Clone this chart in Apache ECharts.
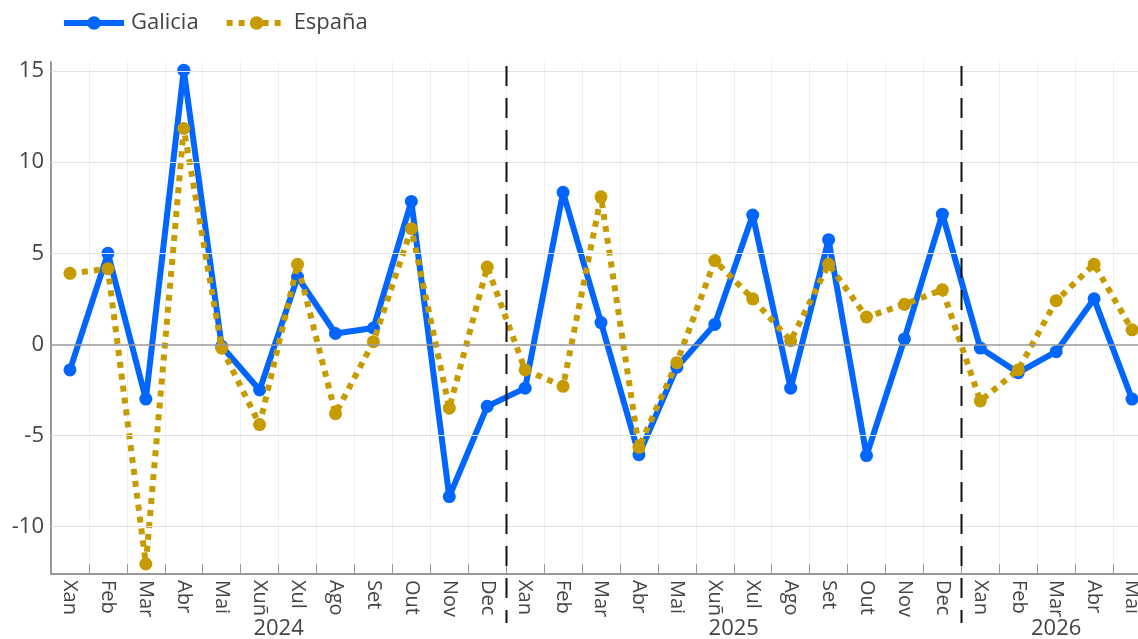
<!DOCTYPE html>
<html>
<head>
<meta charset="utf-8">
<script src="https://cdn.jsdelivr.net/npm/echarts@6/dist/echarts.min.js"></script>
<style>
html,body{margin:0;padding:0;background:#fff;overflow:hidden;width:1138px;height:639px;}
#chart{width:1151px;height:639px;}
</style>
</head>
<body>
<div id="chart"></div>
<script>
// ---- data ----
const categories = ['Xan','Feb','Mar','Abr','Mai','Xuñ','Xul','Ago','Set','Out','Nov','Dec',
                    'Xan','Feb','Mar','Abr','Mai','Xuñ','Xul','Ago','Set','Out','Nov','Dec',
                    'Xan','Feb','Mar','Abr','Mai'];
const galicia = [-1.4, 5.0, -3.0, 15.05, -0.1, -2.5, 3.7, 0.6, 0.9, 7.85, -8.35, -3.4,
                 -2.4, 8.35, 1.2, -6.05, -1.25, 1.1, 7.1, -2.4, 5.75, -6.1, 0.3, 7.15,
                 -0.2, -1.55, -0.4, 2.5, -3.0];
const espana = [3.9, 4.15, -12.05, 11.85, -0.2, -4.4, 4.4, -3.8, 0.15, 6.35, -3.5, 4.25,
                -1.4, -2.3, 8.1, -5.65, -1.0, 4.6, 2.5, 0.2, 4.4, 1.5, 2.2, 3.0,
                -3.1, -1.4, 2.4, 4.4, 0.8];
const yTicks = [-10, -5, 0, 5, 10, 15];
const yearLabels = ['2024', '2025', '2026'];
const yearFirstIndex = [0, 12, 24];
const yearLastIndex = [11, 23, 28];

const FONT = 'Open Sans';
const chart = echarts.init(document.getElementById('chart'), null, {renderer: 'canvas'});

const option = {
  animation: false,
  textStyle: {fontFamily: FONT},
  grid: {left: 51, right: 0, top: 62, bottom: 65, containLabel: false},
  legend: {
    data: ['Galicia', 'España'],
    left: 56, top: 7,
    itemWidth: 60, itemHeight: 17, itemGap: 25,
    lineStyle: {width: 6},
    textStyle: {fontSize: 22, color: '#444', fontFamily: FONT, padding: [0, 0, 0, 2]}
  },
  xAxis: {
    type: 'category',
    data: categories,
    boundaryGap: true,
    axisLine: {show: true, onZero: false, lineStyle: {color: '#777', width: 1.5}},
    axisTick: {show: true, inside: true, length: 10, lineStyle: {color: '#999'}},
    axisLabel: {rotate: -90, fontSize: 20, color: '#444', margin: 6, interval: 0, fontFamily: FONT},
    splitLine: {show: true, lineStyle: {color: '#efefef', width: 1}}
  },
  yAxis: {
    type: 'value',
    min: -12.6, max: 15.5,
    axisLine: {show: true, lineStyle: {color: '#999', width: 2}},
    axisTick: {show: false},
    splitLine: {show: false},
    axisLabel: {
      fontSize: 22, color: '#444', margin: 7, fontFamily: FONT,
      formatter: v => (yTicks.indexOf(v) >= 0 ? String(v) : '')
    }
  },
  series: [
    {
      name: 'grid', type: 'line', data: [], z: 1, silent: true,
      markLine: {
        silent: true, symbol: 'none', label: {show: false}, animation: false,
        data: yTicks.map(v => ({yAxis: v, lineStyle: {color: v === 0 ? '#999' : '#e2e2e2', width: v === 0 ? 1.5 : 1.2, type: 'solid'}}))
      }
    },
    {
      name: 'Galicia', type: 'line', data: galicia, z: 3,
      symbol: 'circle', symbolSize: 13, showAllSymbol: true,
      itemStyle: {color: '#0066ff'},
      lineStyle: {color: '#0066ff', width: 6}
    },
    {
      name: 'España', type: 'line', data: espana, z: 4,
      symbol: 'circle', symbolSize: 13, showAllSymbol: true,
      itemStyle: {color: '#c59b00'},
      lineStyle: {color: '#c59b00', width: 6, type: [6, 6], cap: 'butt'}
    }
  ]
};
chart.setOption(option);

// separators between years and year labels, placed through the axis scale
const gridTop = 62;
const graphics = [];
for (let k = 0; k < yearLabels.length; k++) {
  const x0 = chart.convertToPixel({xAxisIndex: 0}, yearFirstIndex[k]);
  const x1 = chart.convertToPixel({xAxisIndex: 0}, yearLastIndex[k]);
  graphics.push({
    type: 'text', x: (x0 + x1) / 2, y: 629,
    style: {text: yearLabels[k], fontSize: 22, fill: '#444', fontFamily: FONT, align: 'center', verticalAlign: 'middle'}
  });
  if (k > 0) {
    const xa = chart.convertToPixel({xAxisIndex: 0}, yearLastIndex[k - 1]);
    const xb = chart.convertToPixel({xAxisIndex: 0}, yearFirstIndex[k]);
    const xs = Math.round((xa + xb) / 2) + 0.5;
    graphics.push({
      type: 'line', z: 10,
      shape: {x1: xs, y1: gridTop + 4, x2: xs, y2: 623},
      style: {stroke: '#111', lineWidth: 2, lineDash: [20, 12]}
    });
  }
}
chart.setOption({graphic: graphics});
</script>
</body>
</html>
